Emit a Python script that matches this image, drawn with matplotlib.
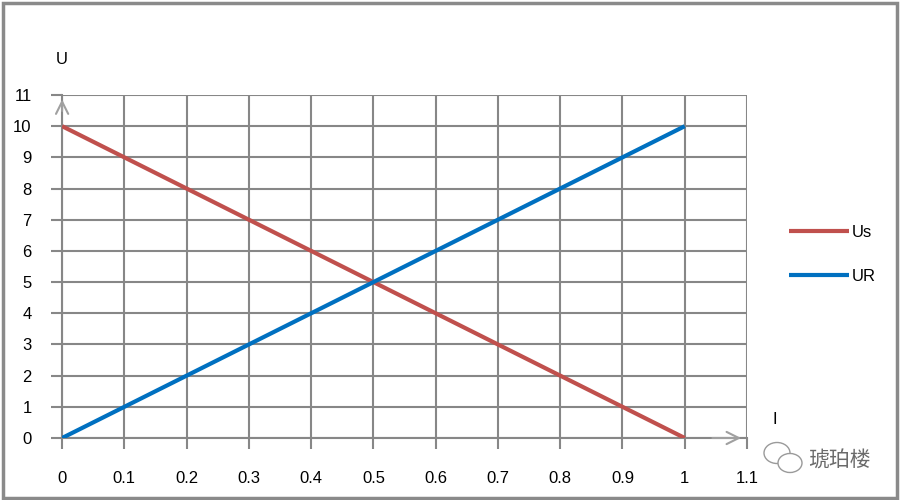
import numpy as np
import matplotlib.pyplot as plt
from matplotlib.patches import Rectangle, Ellipse

# data
current = [0, 0.1, 0.2, 0.3, 0.4, 0.5, 0.6, 0.7, 0.8, 0.9, 1.0]
u_s = [10, 9, 8, 7, 6, 5, 4, 3, 2, 1, 0]
u_r = [0, 1, 2, 3, 4, 5, 6, 7, 8, 9, 10]
x_ticks = [0, 0.1, 0.2, 0.3, 0.4, 0.5, 0.6, 0.7, 0.8, 0.9, 1, 1.1]
x_labels = ['0', '0.1', '0.2', '0.3', '0.4', '0.5', '0.6', '0.7', '0.8', '0.9', '1', '1.1']
y_ticks = list(range(0, 12))

plt.rcParams['font.family'] = ['Liberation Sans', 'Noto Sans CJK SC', 'DejaVu Sans']

GRID = '#878787'
FS = 12

fig = plt.figure(figsize=(9, 5), dpi=100)
ax = fig.add_axes([0.069, 0.124, 0.761, 0.686])

ax.plot(current, u_s, color='#C0504D', lw=3, label='Us', solid_capstyle='butt', zorder=3)
ax.plot(current, u_r, color='#0070C0', lw=3, label='UR', solid_capstyle='butt', zorder=3)

ax.set_xlim(0, 1.1)
ax.set_ylim(0, 11)
ax.set_xticks(x_ticks)
ax.set_xticklabels(x_labels)
ax.set_yticks(y_ticks)
ax.grid(True, color=GRID, lw=1.5)
ax.tick_params(length=8, width=1.5, color=GRID, labelsize=FS)
ax.tick_params(axis='x', pad=16)
ax.tick_params(axis='y', pad=14)
for s in ['left', 'bottom']:
    ax.spines[s].set_color(GRID)
    ax.spines[s].set_linewidth(1.5)
for s in ['top', 'right']:
    ax.spines[s].set_visible(False)

# open arrowheads at the axis ends
ax.annotate('', xy=(0, 10.95), xytext=(0, 10.4),
            arrowprops=dict(arrowstyle='->', color='#A0A0A0', lw=1.5, mutation_scale=22),
            annotation_clip=False)
ax.annotate('', xy=(1.095, 0), xytext=(1.04, 0),
            arrowprops=dict(arrowstyle='->', color='#A0A0A0', lw=1.5, mutation_scale=22),
            annotation_clip=False)

fig.text(62 / 900, 1 - 60 / 500, 'U', fontsize=FS, ha='center', va='center')
fig.text(775 / 900, 1 - 420 / 500, 'I', fontsize=FS, ha='center', va='center')

ax.legend(loc='center left', bbox_to_anchor=(1.04, 0.535), frameon=False,
          handlelength=3.6, labelspacing=1.7, fontsize=FS, handletextpad=0.15)

# watermark: simple chat-bubble icon plus text
for (cx, cy, w, h) in [(777, 453, 26, 21), (790, 463, 24, 19)]:
    fig.patches.append(Ellipse((cx / 900, 1 - cy / 500), w / 900, h / 500,
                               transform=fig.transFigure, facecolor='white',
                               edgecolor='#9a9a9a', lw=1))
fig.text(871 / 900, 1 - 461 / 500, '琥珀楼', fontsize=15, color='#6a6a6a',
         ha='right', va='center', family=['Noto Sans CJK SC', 'DejaVu Sans'])

fig.patches.append(Rectangle((0.003, 0.005), 0.994, 0.99, transform=fig.transFigure,
                             fill=False, edgecolor='#8a8a8a', lw=2.5))

fig.savefig('out.png', dpi=100)
